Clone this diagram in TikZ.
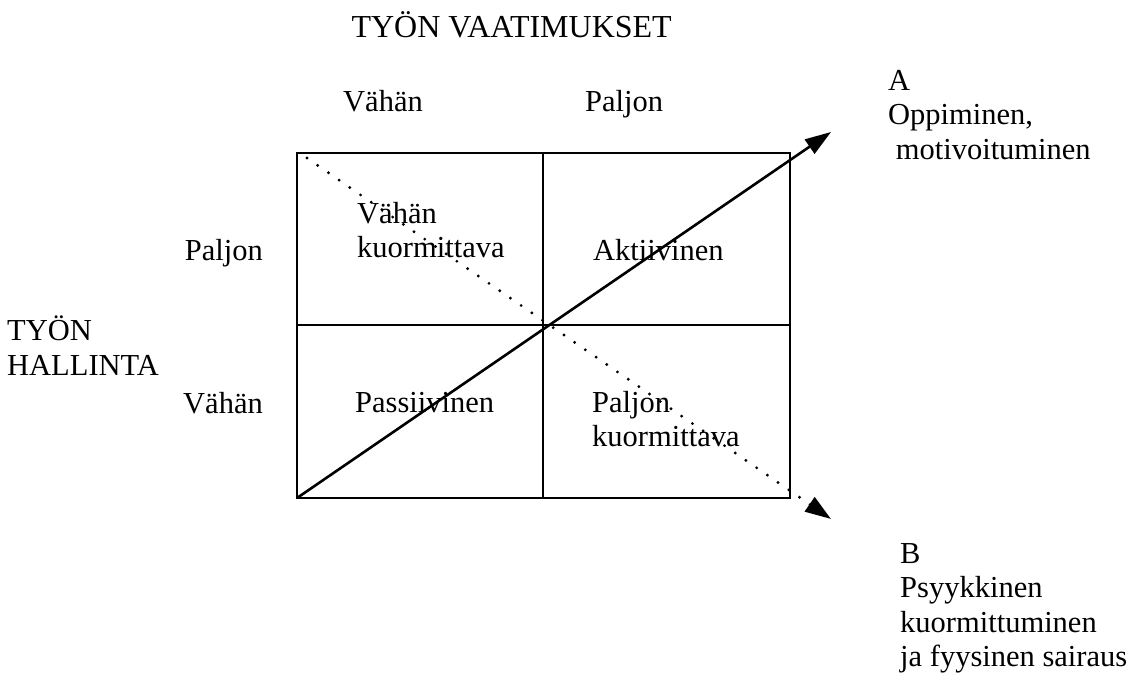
\documentclass[tikz,border=0pt]{standalone}
\usepackage{fontspec}
\setmainfont{Liberation Serif}
\usetikzlibrary{arrows.meta}

\begin{document}
\begin{tikzpicture}[x=1pt,y=-1pt,
  txt/.style={font=\fontsize{30.5}{34.5}\selectfont,inner sep=0pt,anchor=base west},
  txtblock/.style={font=\fontsize{30.5}{34.5}\selectfont,inner sep=0pt,anchor=north west,align=left},
  pointer/.style={-{Triangle[length=26pt,width=17pt]}},
  dots/.style={line width=3.2pt,line cap=round,dash pattern=on 0pt off 13pt}]
\useasboundingbox (0,0) rectangle (1135,686);
% the four-field grid
\coordinate (nw) at (297,153);
\coordinate (ne) at (790,153);
\coordinate (sw) at (297,498);
\coordinate (se) at (790,498);
\coordinate (midN) at (543,153);
\coordinate (midS) at (543,498);
\coordinate (midW) at (297,325);
\coordinate (midE) at (790,325);
\draw[line width=2.4pt] (nw) rectangle (se);
\draw[line width=2.4pt] (midN) -- (midS);
\draw[line width=2.4pt] (midW) -- (midE);
% the two diagonals
\coordinate (tipA) at (831,132);
\coordinate (startB) at (307,158);
\coordinate (tipB) at (831,519);
\draw[line width=2.6pt,pointer] (sw) -- (tipA);
\draw[dots,pointer] (startB) -- (tipB);
% axis labels
\node[txt,anchor=base east,font=\fontsize{32}{36}\selectfont] (demands) at (672,37) {TYÖN VAATIMUKSET};
\node[txt] (demLow) at (343,111) {Vähän};
\node[txt] (demHigh) at (585,111) {Paljon};
\node[txtblock] (control) at (7,316) {TYÖN\\HALLINTA};
\node[txt,anchor=base east] (ctrlHigh) at (263,260) {Paljon};
\node[txt,anchor=base east] (ctrlLow) at (263,413) {Vähän};
% fields
\node[txtblock] (lowStrain) at (357,202) {Vähän\\kuormittava};
\node[txt] (active) at (593,260) {Aktiivinen};
\node[txt] (passive) at (355,412) {Passiivinen};
\node[txtblock] (highStrain) at (592,391) {Paljon\\kuormittava};
% outcomes
\node[txtblock] (outA) at (888,70) {A\\Oppiminen,\\\ motivoituminen};
\node[txtblock] (outB) at (900,543) {B\\Psyykkinen\\kuormittuminen\\ja fyysinen sairaus};
\end{tikzpicture}
\end{document}
